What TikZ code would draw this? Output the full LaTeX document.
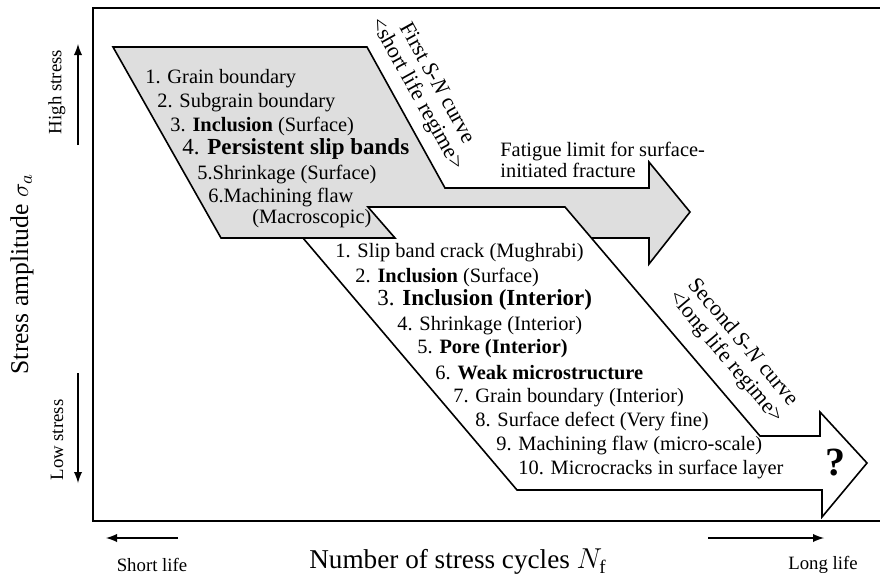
\documentclass[tikz,border=0pt]{standalone}
\usepackage{fontspec}
\setmainfont{Liberation Serif}
\begin{document}
\begin{tikzpicture}[x=0.5pt,y=-0.5pt,
    item/.style={anchor=west,inner sep=0pt,font=\fontsize{10.2}{11}\selectfont},
    bolditem/.style={anchor=west,inner sep=0pt,font=\fontsize{11.5}{12}\selectfont},
    slantlabel/.style={align=center,inner sep=0pt,font=\fontsize{11}{11.4}\selectfont},
    sidelabel/.style={inner sep=0pt,font=\fontsize{9.4}{11}\selectfont},
    band/.style={draw,line width=0.8pt,line join=miter}]
  \useasboundingbox (0,0) rectangle (880,579);

  % frame
  \draw[line width=1.1pt] (93,8) rectangle (900,521);

  % first S-N band (grey) and second S-N band (white)
  \fill[black!13] (113,47) -- (367,47) -- (445,188) -- (649,188) -- (649,162) -- (690,212)
    -- (649,264) -- (649,238) -- (221,238) -- cycle;
  \draw[band] (113,47) -- (367,47) -- (445,188) -- (649,188) -- (649,162) -- (690,212)
    -- (649,264) -- (649,238) -- (221,238) -- cycle;
  \draw[band,fill=white] (368,207) -- (565,207) -- (760,436) -- (820,436) -- (820,412) -- (867,463)
    -- (822,517) -- (822,490) -- (517,490) -- (303,238) -- (395,238) -- cycle;

  % short life regime
  \node[item] (g1) at (145,79) {1. Grain boundary};
  \node[item] (g2) at (157,103) {2. Subgrain boundary};
  \node[item] (g3) at (170,126) {3. \textbf{Inclusion} (Surface)};
  \node[bolditem] (g4) at (182,149) {4. \textbf{Persistent slip bands}};
  \node[item] (g5) at (197,175) {5.Shrinkage (Surface)};
  \node[item] (g6) at (208,198) {6.Machining flaw};
  \node[item] (g7) at (252,219) {(Macroscopic)};

  % long life regime
  \node[item] (w1) at (335,253) {1. Slip band crack (Mughrabi)};
  \node[item] (w2) at (355,277) {2. \textbf{Inclusion} (Surface)};
  \node[bolditem] (w3) at (377,300) {3. \textbf{Inclusion (Interior)}};
  \node[item] (w4) at (397,326) {4. Shrinkage (Interior)};
  \node[item] (w5) at (417,349) {5. \textbf{Pore (Interior)}};
  \node[item] (w6) at (435,373) {6. \textbf{Weak microstructure}};
  \node[item] (w7) at (453,398) {7. Grain boundary (Interior)};
  \node[item] (w8) at (475,422) {8. Surface defect (Very fine)};
  \node[item] (w9) at (496,446) {9. Machining flaw (micro-scale)};
  \node[item] (w10) at (518,470) {10. Microcracks in surface layer};
  \node[inner sep=0pt,font=\fontsize{20}{24}\selectfont\bfseries] (q) at (835,463) {?};

  \node[slantlabel,rotate=-61] (first) at (426,89) {First \textit{S-N} curve\\<short life regime>};
  \node[slantlabel,rotate=-50] (second) at (734,350) {Second \textit{S-N} curve\\<long life regime>};
  \node[item,align=left,anchor=north west,font=\fontsize{10.2}{10.4}\selectfont] (limit) at (500,142) {Fatigue limit for surface-\\initiated fracture};

  % axes
  \node[rotate=90,inner sep=0pt,font=\fontsize{12.8}{14}\selectfont] (ylab) at (22,274) {Stress amplitude $\sigma_a$};
  \node[sidelabel,rotate=90] (high) at (57,92) {High stress};
  \node[sidelabel,rotate=90] (low) at (57,440) {Low stress};
  \coordinate (h0) at (78,145);
  \coordinate (h1) at (78,44);
  \coordinate (l0) at (78,373);
  \coordinate (l1) at (78,483);
  \draw[line width=0.9pt,-latex] (h0) -- (h1);
  \draw[line width=0.9pt,-latex] (l0) -- (l1);

  \node[inner sep=0pt,font=\fontsize{13.6}{15}\selectfont] (xlab) at (458,562) {Number of stress cycles $N_\mathrm{f}$};
  \node[sidelabel] (short) at (152,565) {Short life};
  \node[sidelabel] (long) at (823,565) {Long life};
  \coordinate (s0) at (178,538);
  \coordinate (s1) at (106,538);
  \coordinate (t0) at (708,538);
  \coordinate (t1) at (824,538);
  \draw[line width=0.9pt,-latex] (s0) -- (s1);
  \draw[line width=0.9pt,-latex] (t0) -- (t1);
\end{tikzpicture}
\end{document}
